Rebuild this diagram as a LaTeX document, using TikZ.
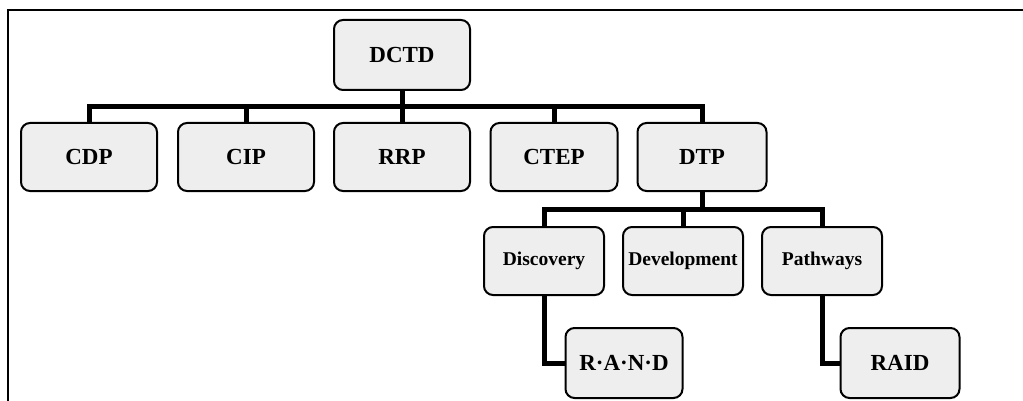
\documentclass[tikz,border=0pt]{standalone}
\usepackage{fontspec}
\setmainfont{Liberation Serif}
\usetikzlibrary{positioning,calc}
\definecolor{Speckle}{HTML}{EEEEEE}

\tikzset{
  unit/.style={draw,line width=2pt,rounded corners=9pt,fill=Speckle,
    minimum width=136pt,minimum height=68pt,inner sep=0pt,
    font=\fontsize{23}{27}\selectfont\bfseries},
  subunit/.style={unit,minimum width=120pt,font=\fontsize{19.5}{23}\selectfont\bfseries},
  link/.style={line width=5pt}
}

\begin{document}
\begin{tikzpicture}[x=1pt,y=-1pt]
        \useasboundingbox (0,0) rectangle (1023,401);
        % frame
        \draw[line width=1.5pt] (1023,10) -- (8,10) -- (8,401);
        % boxes
        \node[unit,minimum height=70pt] (dctd) at (402,55) {DCTD};
        \node[unit] (cdp) at (89,157) {CDP};
        \node[unit] (cip) at (246,157) {CIP};
        \node[unit] (rrp) at (402,157) {RRP};
        \node[unit,minimum width=127pt] (ctep) at (554,157) {CTEP};
        \node[unit,minimum width=129pt] (dtp) at (702,157) {DTP};
        \node[subunit] (discovery) at (544,261) {Discovery};
        \node[subunit] (development) at (683,261) {Development};
        \node[subunit] (pathways) at (822,261) {Pathways};
        \node[unit,minimum width=117pt,minimum height=70pt] (rand) at (624,363) {R·A·N·D};
        \node[unit,minimum width=119pt,minimum height=70pt] (raid) at (900,363) {RAID};
        % junctions
        \coordinate (j1) at (402,107);
        \coordinate (j2) at (702,209);
        % level one
        \draw[link] (dctd) -- (rrp);
        \draw[link] (cdp.north) |- (j1) -| (dtp.north);
        \draw[link] (cip.north) -- (cip.north|-j1);
        \draw[link] (ctep.north) -- (ctep.north|-j1);
        % level two
        \draw[link] (dtp.south) -- (j2);
        \draw[link] (discovery.north) |- (j2) -| (pathways.north);
        \draw[link] (development.north) -- (development.north|-j2);
        % level three
        \draw[link] (discovery.south) |- (rand.west);
        \draw[link] (pathways.south) |- (raid.west);
\end{tikzpicture}
\end{document}
